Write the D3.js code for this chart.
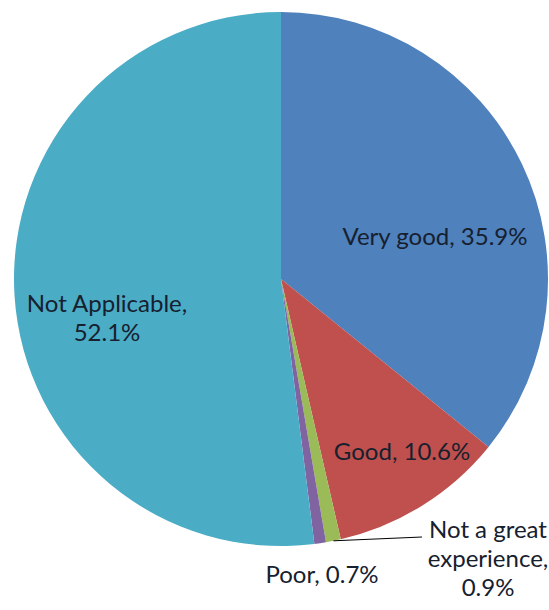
<!DOCTYPE html>
<html>
<head>
<meta charset="utf-8">
<script src="https://cdn.jsdelivr.net/npm/d3@7"></script>
<style>
html,body{margin:0;padding:0;background:#fff;}
svg{display:block;}
text{font-family:Lato,"Open Sans",sans-serif;}
</style>
</head>
<body>
<svg id="chart" width="549" height="610"></svg>
<script>
const categories = ["Very good", "Good", "Not a great experience", "Poor", "Not Applicable"];
const values = [35.9, 10.6, 0.9, 0.7, 52.1];
const colors = ["#4F81BD", "#C0504D", "#9BBB59", "#8064A2", "#4BACC6"];
const labelLines = [
  ["Very good, 35.9%"],
  ["Good, 10.6%"],
  ["Not a great", "experience,", "0.9%"],
  ["Poor, 0.7%"],
  ["Not Applicable,", "52.1%"]
];

const W = 549, H = 610;
const cx = 281, cy = 279, R = 267;
const svg = d3.select("#chart");
const g = svg.append("g").attr("transform", `translate(${cx},${cy})`);

const data = categories.map((c, i) => ({name: c, value: values[i], color: colors[i], lines: labelLines[i]}));
const pie = d3.pie().sort(null).value(d => d.value);
const arc = d3.arc().innerRadius(0).outerRadius(R);
const arcs = pie(data);

g.selectAll("path.slice").data(arcs).enter().append("path")
  .attr("class", "slice")
  .attr("d", arc)
  .attr("fill", d => d.data.color);

// label layout (offsets from pie centre)
const labelLayout = [
  {x: 154, y: -34},
  {x: 121, y: 181},
  {x: 207, y: 259},
  {x: 41, y: 304},
  {x: -174, y: 33}
];
const lineH = 29;

arcs.forEach((a, i) => {
  const L = labelLayout[i];
  const t = g.append("text")
    .attr("text-anchor", "middle")
    .attr("font-size", 24)
    .attr("fill", "#16202e");
  a.data.lines.forEach((ln, j) => {
    t.append("tspan").attr("x", L.x).attr("y", L.y + j * lineH).text(ln);
  });
});

// leader line for "Not a great experience"
const small = arcs[2];
const midA = (small.startAngle + small.endAngle) / 2;
const px = Math.sin(midA) * R, py = -Math.cos(midA) * R;
g.append("path")
  .attr("d", `M${px},${py}L${141},${258}`)
  .attr("stroke", "#000")
  .attr("stroke-width", 1)
  .attr("fill", "none");
</script>
</body>
</html>
